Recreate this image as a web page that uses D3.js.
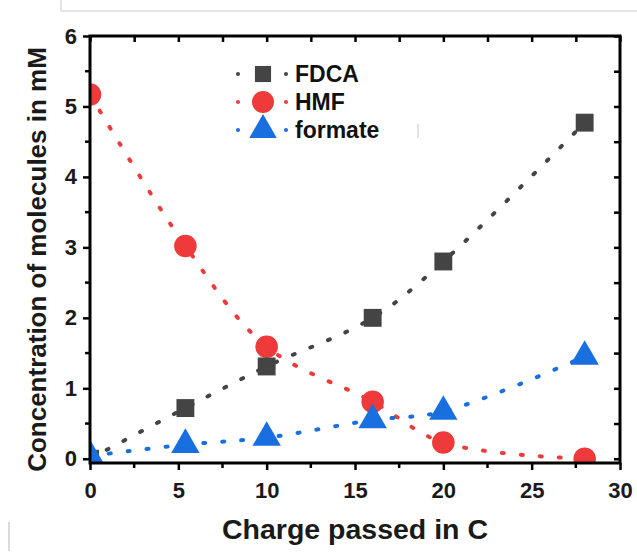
<!DOCTYPE html>
<html>
<head>
<meta charset="utf-8">
<script src="https://cdn.jsdelivr.net/npm/d3@7"></script>
<style>
  body { margin: 0; background: #fff; }
  svg { display: block; font-family: "Liberation Sans", Arial, sans-serif; }
  .tick-label { font-size: 22px; font-weight: bold; fill: #1a1a1a; }
  .axis-title { font-size: 26px; font-weight: bold; fill: #1a1a1a; }
  .legend-label { font-size: 23px; font-weight: bold; fill: #111; }
</style>
</head>
<body>
<div id="chart"></div>
<script>
// data
const charge = [0, 5.4, 10, 16, 20, 28];
const fdca = [0, 0.72, 1.31, 2.0, 2.8, 4.77];
const hmf = [5.17, 3.02, 1.59, 0.81, 0.23, 0.0];
const formate = [0.04, 0.2, 0.3, 0.55, 0.67, 1.45];

const seriesNames = ["FDCA", "HMF", "formate"];
const seriesColors = ["#444444", "#ee3a3a", "#1a6fe0"];
const seriesShapes = [d3.symbolSquare, d3.symbolCircle, d3.symbolTriangle];

const xTicks = [0, 5, 10, 15, 20, 25, 30];
const yTicks = [0, 1, 2, 3, 4, 5, 6];

const width = 637, height = 552;
const margin = {top: 36, right: 17, bottom: 89, left: 90};

const svg = d3.select("#chart").append("svg")
    .attr("width", width)
    .attr("height", height);

// faint page frame left over from the screenshot
svg.append("path")
    .attr("d", "M61,0 V11 H637")
    .attr("fill", "none")
    .attr("stroke", "#dcdcdc")
    .attr("stroke-width", 1.5);
svg.append("line")
    .attr("x1", 9).attr("x2", 9).attr("y1", 522).attr("y2", 551)
    .attr("stroke", "#cfcfcf").attr("stroke-width", 1.5);

const x = d3.scaleLinear()
    .domain([0, 30])
    .range([margin.left, width - margin.right]);
const y = d3.scaleLinear()
    .domain([-0.06, 6])
    .range([height - margin.bottom, margin.top]);

const plotW = width - margin.left - margin.right;
const plotH = height - margin.top - margin.bottom;

svg.append("clipPath").attr("id", "plot-clip")
    .append("rect")
    .attr("x", margin.left).attr("y", margin.top)
    .attr("width", plotW).attr("height", plotH);

const plot = svg.append("g").attr("clip-path", "url(#plot-clip)");

const allSeries = [fdca, hmf, formate];

let line = d3.line()
    .x(function(d) { return x(d[0]); })
    .y(function(d) { return y(d[1]); })
    .curve(d3.curveCatmullRom.alpha(0.5));

// dotted guide lines
allSeries.forEach(function(vals, i) {
    let pts = charge.map(function(c, j) { return [c, vals[j]]; });
    plot.append("path")
        .datum(pts)
        .attr("d", line)
        .attr("fill", "none")
        .attr("stroke", seriesColors[i])
        .attr("stroke-width", 4)
        .attr("stroke-linecap", "round")
        .attr("stroke-dasharray", "2,17");
});

// markers - HMF under FDCA under formate
const markerSizes = [320, 400, 350];
[1, 0, 2].forEach(function(i) {
    let vals = allSeries[i];
    plot.append("g")
        .selectAll("path")
        .data(charge.map(function(c, j) { return [c, vals[j]]; }))
        .enter()
        .append("path")
        .attr("transform", function(d) { return "translate(" + x(d[0]) + "," + y(d[1]) + ")"; })
        .attr("d", d3.symbol().type(seriesShapes[i]).size(markerSizes[i]))
        .attr("fill", seriesColors[i]);
});

// axes
const xAxisB = d3.axisBottom(x).tickValues(xTicks).tickSize(7).tickPadding(12).tickFormat(d3.format("d"));
const xAxisT = d3.axisTop(x).tickValues(d3.range(0, 30.1, 2.5)).tickSize(-6).tickFormat("");
const yAxisL = d3.axisLeft(y).tickValues(yTicks).tickSize(7).tickPadding(6).tickFormat(d3.format("d"));
const yAxisR = d3.axisRight(y).tickValues(d3.range(0, 6.01, 0.5)).tickSize(-6).tickFormat("");

let gB = svg.append("g").attr("transform", "translate(0," + (height - margin.bottom) + ")").call(xAxisB);
let gT = svg.append("g").attr("transform", "translate(0," + margin.top + ")").call(xAxisT);
let gL = svg.append("g").attr("transform", "translate(" + margin.left + ",0)").call(yAxisL);
let gR = svg.append("g").attr("transform", "translate(" + (width - margin.right) + ",0)").call(yAxisR);

// minor ticks outward on bottom and left
gB.selectAll(".minor").data([2.5, 7.5, 12.5, 17.5, 22.5, 27.5]).enter()
    .append("line").attr("class", "minor")
    .attr("x1", function(d) { return x(d); }).attr("x2", function(d) { return x(d); })
    .attr("y1", 0).attr("y2", 5)
    .attr("stroke", "#000").attr("stroke-width", 2.5);
gL.selectAll(".minor").data([0.5, 1.5, 2.5, 3.5, 4.5, 5.5]).enter()
    .append("line").attr("class", "minor")
    .attr("y1", function(d) { return y(d); }).attr("y2", function(d) { return y(d); })
    .attr("x1", 0).attr("x2", -5)
    .attr("stroke", "#000").attr("stroke-width", 2.5);

[gB, gT, gL, gR].forEach(function(g) {
    g.select(".domain").remove();
    g.selectAll(".tick line").attr("stroke", "#000").attr("stroke-width", 2.5);
    g.selectAll(".tick text").attr("class", "tick-label").attr("font-size", null).attr("font-family", null);
});

// plot frame
svg.append("rect")
    .attr("x", margin.left).attr("y", margin.top)
    .attr("width", plotW).attr("height", plotH)
    .attr("fill", "none")
    .attr("stroke", "#000")
    .attr("stroke-width", 3);

// axis titles
svg.append("text")
    .attr("class", "axis-title")
    .attr("text-anchor", "middle")
    .style("font-size", "28.5px")
    .attr("x", 355)
    .attr("y", 539)
    .text("Charge passed in C");

svg.append("text")
    .attr("class", "axis-title")
    .attr("text-anchor", "middle")
    .attr("transform", "translate(46," + (margin.top + plotH / 2 + 10) + ") rotate(-90)")
    .text("Concentration of molecules in mM");

// legend
const legendRows = [74, 102, 130];
const legendSizes = [260, 380, 330];
seriesNames.forEach(function(name, i) {
    let g = svg.append("g").attr("transform", "translate(263," + legendRows[i] + ")");
    [-25, 23].forEach(function(dx) {
        g.append("circle").attr("cx", dx).attr("cy", 0).attr("r", 2)
            .attr("fill", seriesColors[i]);
    });
    g.append("path")
        .attr("d", d3.symbol().type(seriesShapes[i]).size(legendSizes[i]))
        .attr("fill", seriesColors[i]);
    g.append("text")
        .attr("class", "legend-label")
        .attr("x", 32)
        .attr("y", 8)
        .text(name);
});

// small stray mark next to the legend
svg.append("line")
    .attr("x1", 418).attr("x2", 418).attr("y1", 124).attr("y2", 138)
    .attr("stroke", "#d8d8d8").attr("stroke-width", 1.5);
</script>
</body>
</html>
